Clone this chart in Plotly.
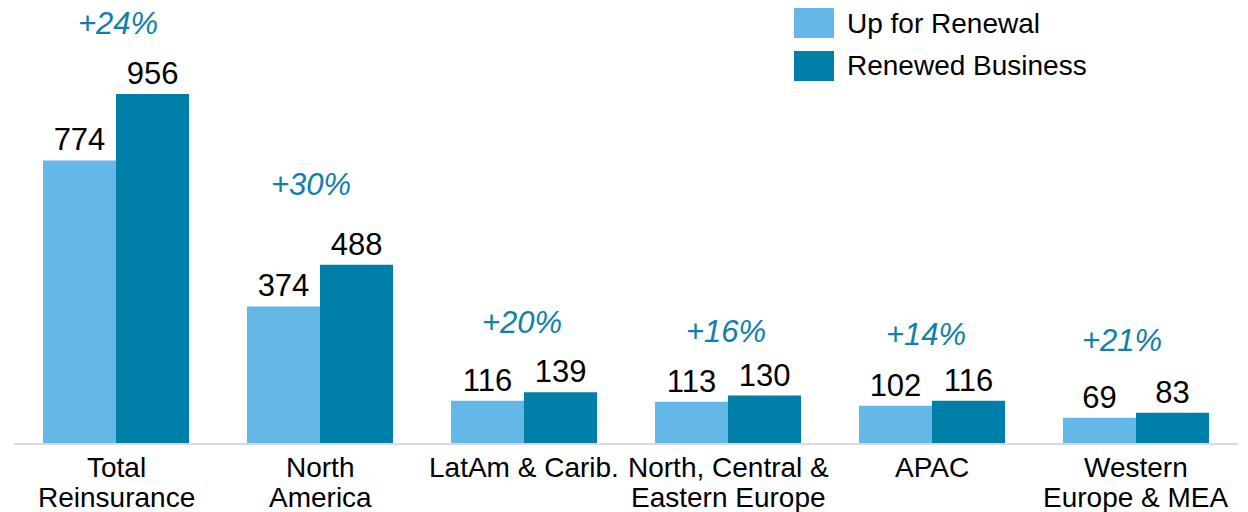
import plotly.graph_objects as go

categories = ["Total<br>Reinsurance", "North<br>America", "LatAm & Carib.",
              "North, Central &<br>Eastern Europe", "APAC", "Western<br>Europe & MEA"]
up_for_renewal = [774, 374, 116, 113, 102, 69]
renewed_business = [956, 488, 139, 130, 116, 83]
growth_labels = ["+24%", "+30%", "+20%", "+16%", "+14%", "+21%"]

LIGHT = "#63B8E8"
DARK = "#007FA8"
PCT = "#0E80A9"
FONT = "Arial, Liberation Sans, sans-serif"

W, H = 1248, 512
ML, MR, MT, MB = 14, 10, 10, 69
PW, PH = W - ML - MR, H - MT - MB
YMAX = 1186

def px_x(p):
    return (p - ML) / PW

def px_y(p):
    return (H - MB - p) / PH

fig = go.Figure()
fig.add_trace(go.Bar(x=categories, y=up_for_renewal, name="Up for Renewal",
                     marker=dict(color=LIGHT, line=dict(width=0)),
                     text=up_for_renewal, textposition="outside",
                     textfont=dict(size=31, color="black", family=FONT),
                     cliponaxis=False, hoverinfo="skip"))
fig.add_trace(go.Bar(x=categories, y=renewed_business, name="Renewed Business",
                     marker=dict(color=DARK, line=dict(width=0)),
                     text=renewed_business, textposition="outside",
                     textfont=dict(size=31, color="black", family=FONT),
                     cliponaxis=False, hoverinfo="skip"))

# growth labels, placed above the taller bar
pct_yshift = [70, 80, 70, 64, 66, 72]
pct_xshift = [2, -9, -2, -2, -6, -14]
for c, r, u, g, ys, xs in zip(categories, renewed_business, up_for_renewal,
                              growth_labels, pct_yshift, pct_xshift):
    fig.add_annotation(x=c, y=max(r, u), text=f"<i>{g}</i>", showarrow=False,
                       yshift=ys, xshift=xs, yanchor="middle",
                       font=dict(size=31, color=PCT, family=FONT))

# category labels (drawn line by line for tight line spacing)
line_centers = [467, 497]
for c in categories:
    for i, line in enumerate(c.split("<br>")):
        fig.add_annotation(x=c, xref="x", yref="paper", y=px_y(line_centers[i]),
                           text=line, showarrow=False, yanchor="middle",
                           font=dict(size=28, color="black", family=FONT))

# custom legend
legend_items = [("Up for Renewal", LIGHT, 8, 38), ("Renewed Business", DARK, 51, 81)]
for name, col, y0, y1 in legend_items:
    fig.add_shape(type="rect", xref="paper", yref="paper",
                  x0=px_x(794), x1=px_x(834), y0=px_y(y1), y1=px_y(y0),
                  fillcolor=col, line=dict(width=0))
    fig.add_annotation(xref="paper", yref="paper", x=px_x(845), y=px_y((y0 + y1) / 2),
                       text=name, showarrow=False, xanchor="left", yanchor="middle",
                       font=dict(size=28, color="black", family=FONT))

fig.update_layout(
    width=W, height=H,
    margin=dict(l=ML, r=MR, t=MT, b=MB, autoexpand=False),
    barmode="group", bargap=0.284, bargroupgap=0,
    plot_bgcolor="white", paper_bgcolor="white",
    showlegend=False,
    font=dict(family=FONT, color="black"),
    xaxis=dict(showline=True, linecolor="#D9D9D9", linewidth=2, automargin=False,
               ticks="", showgrid=False, showticklabels=False),
    yaxis=dict(range=[0, YMAX], visible=False, showgrid=False, zeroline=False,
               automargin=False),
)

fig.write_html("out.html", config={"displayModeBar": False},
               post_script="document.body.style.margin='0';document.body.style.overflow='hidden';")
